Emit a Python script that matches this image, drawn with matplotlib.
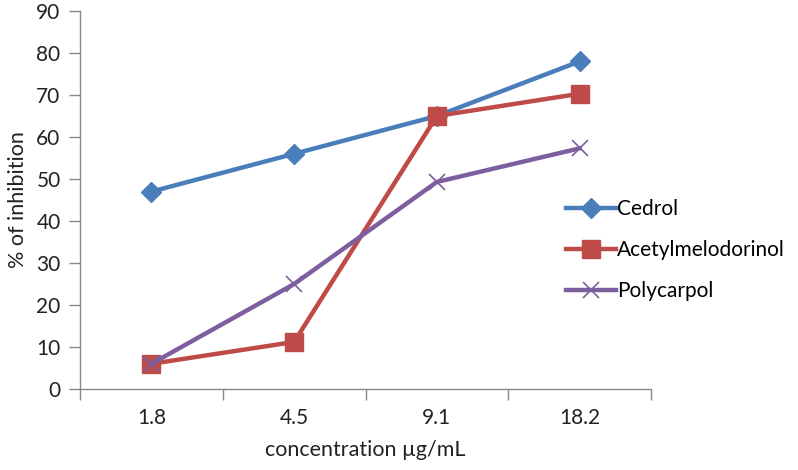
import matplotlib
matplotlib.use('Agg')
import matplotlib.pyplot as plt

# data
concentrations = ['1.8', '4.5', '9.1', '18.2']
cedrol = [47, 56, 65, 78]
acetylmelodorinol = [6, 11.2, 65, 70.3]
polycarpol = [6, 25, 49.3, 57.3]

plt.rcParams['font.family'] = ['Lato', 'DejaVu Sans']

fig = plt.figure(figsize=(7.98, 4.70), dpi=100)
ax = fig.add_axes([80/798, 81/470, (651-80)/798, (389-11)/470])

x = list(range(len(concentrations)))
ax.plot(x, cedrol, color='#4A7EBB', lw=3.2, marker='D', ms=10.5,
        mec='#4A7EBB', label='Cedrol', zorder=3)
ax.plot(x, acetylmelodorinol, color='#BE4B48', lw=3.2, marker='s', ms=12.5,
        mec='#BE4B48', label='Acetylmelodorinol', zorder=3)
ax.plot(x, polycarpol, color='#7D5FA0', lw=3.2, marker='x', ms=12,
        mew=1.2, label='Polycarpol', zorder=4)

ax.set_xlim(-0.5, len(concentrations) - 0.5)
ax.set_ylim(0, 90)
ax.set_yticks(range(0, 91, 10))
ax.set_xticks(x)
ax.set_xticklabels(concentrations)
ax.set_xticks([i - 0.5 for i in range(len(concentrations) + 1)], minor=True)
ax.tick_params(axis='x', which='major', length=0, pad=14, labelsize=15, colors='#222222')
ax.tick_params(axis='x', which='minor', length=8, color='#888888', width=1)
ax.tick_params(axis='y', length=8, color='#888888', width=1, labelsize=15,
               colors='#888888', labelcolor='#222222', pad=6)

for s in ['top', 'right']:
    ax.spines[s].set_visible(False)
for s in ['left', 'bottom']:
    ax.spines[s].set_color('#888888')
    ax.spines[s].set_linewidth(1)

ax.set_xlabel('concentration µg/mL', fontsize=15.5, color='#222222', labelpad=8)
ax.set_ylabel('% of inhibition', fontsize=15.5, color='#222222', labelpad=6)

fig.legend(loc='center left', bbox_to_anchor=(566/798, 0.468), frameon=False,
           borderpad=0, borderaxespad=0,
           fontsize=15, handlelength=2.4, handletextpad=0.05, labelspacing=1.0)

fig.savefig('out.png', dpi=100)
